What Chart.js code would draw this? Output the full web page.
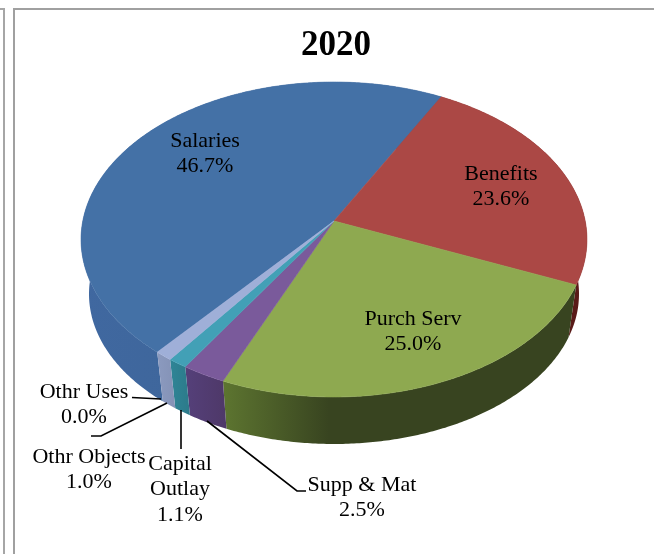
<!DOCTYPE html>
<html lang="en">
<head>
<meta charset="utf-8">
<title>2020</title>
<script src="https://cdnjs.cloudflare.com/ajax/libs/Chart.js/4.4.1/chart.umd.min.js"></script>
<style>
    html, body { margin: 0; background: #fff; }
    body { width: 654px; height: 554px; position: relative; overflow: hidden; }
    #outerFrame { position: absolute; left: 0; top: 8px; width: 3px; height: 546px; border-top: 2px solid #a6a6a6; border-right: 2px solid #a6a6a6; box-sizing: content-box; }
    #frame { position: absolute; left: 13px; top: 8px; right: 0; bottom: 0; border-top: 2px solid #a0a0a0; border-left: 2px solid #a0a0a0; }
    canvas { position: absolute; left: 0; top: 0; }
</style>
</head>
<body>
<div id="outerFrame"></div>
<div id="frame"></div>
<canvas id="budget" width="654" height="554"></canvas>

<script type="text/javascript">

    const title = "2020";
    const categories = ["Salaries", "Benefits", "Purch Serv", "Supp & Mat", "Capital Outlay", "Othr Objects", "Othr Uses"];
    const shares = [46.7, 23.6, 25.0, 2.5, 1.1, 1.0, 0.0];

    const topColors = ["#4471a6", "#ab4845", "#8ea950", "#7a5a9b", "#42a0b6", "#9fafd8", "#e8964a"];
    const wallColorsLeft = ["#4068a0", "#6a2220", "#5d7530", "#55407a", "#2f8596", "#8b9abf", "#b87030"];
    const wallColorsRight = ["#3a6290", "#581a18", "#384420", "#4e3868", "#2c7a8a", "#8492b6", "#b87030"];

    // perspective of the disc: top face and bottom rim
    const tilt = -0.1175;
    const topFace = {x: 334, y: 221, rx: 251.2, ry: 155.3};
    const bottomFace = {x: 334, y: 276.4, rx: 243.3, ry: 147.9};

    function project(face, angle) {
        const u = Math.cos(angle), v = Math.sin(angle);
        const w = 1 + tilt * v;
        return {x: face.x + face.rx * u / w, y: face.y + face.ry * v / w};
    }

    function arcPoints(face, start, end) {
        const pts = [];
        const steps = Math.max(2, Math.ceil((end - start) / 0.01));
        for (let i = 0; i <= steps; i++) {
            pts.push(project(face, start + (end - start) * i / steps));
        }
        return pts;
    }

    function tracePolygon(ctx, pts) {
        ctx.beginPath();
        pts.forEach((p, i) => i ? ctx.lineTo(p.x, p.y) : ctx.moveTo(p.x, p.y));
        ctx.closePath();
    }

    // slices are taken from the arc elements, then drawn on the tilted disc
    const tiltedPie = {
        id: "tiltedPie",
        beforeDatasetDraw(chart) {
            const ctx = chart.ctx;
            const arcs = chart.getDatasetMeta(0).data;
            ctx.save();

            arcs.forEach((arc, i) => {
                if (arc.endAngle - arc.startAngle <= 0) return;
                const upper = arcPoints(topFace, arc.startAngle, arc.endAngle);
                const lower = arcPoints(bottomFace, arc.startAngle, arc.endAngle).reverse();
                const xs = upper.concat(lower).map(p => p.x);
                const left = Math.min(...xs), right = Math.max(...xs);
                const shade = ctx.createLinearGradient(left, 0, Math.max(right, left + 1), 0);
                shade.addColorStop(0, wallColorsLeft[i]);
                shade.addColorStop(i === 2 ? 0.3 : 1, wallColorsRight[i]);
                shade.addColorStop(1, wallColorsRight[i]);
                ctx.fillStyle = shade;
                tracePolygon(ctx, upper.concat(lower));
                ctx.fill();
            });

            arcs.forEach((arc, i) => {
                if (arc.endAngle - arc.startAngle <= 0) return;
                const rim = arcPoints(topFace, arc.startAngle, arc.endAngle);
                const apex = {x: topFace.x, y: topFace.y};
                tracePolygon(ctx, [apex].concat(rim));
                ctx.fillStyle = topColors[i];
                ctx.strokeStyle = topColors[i];
                ctx.lineWidth = 0.6;
                ctx.fill();
                ctx.stroke();
            });

            ctx.restore();
            return false;
        },
        afterDatasetsDraw(chart) {
            const ctx = chart.ctx;
            ctx.save();

            ctx.strokeStyle = "#000";
            ctx.lineWidth = 1.6;
            [
                [[132, 397.5], [161, 399]],
                [[91, 436], [101, 436], [167, 403]],
                [[181, 410], [181, 449]],
                [[207, 421], [297, 491], [306, 491]]
            ].forEach(line => {
                ctx.beginPath();
                line.forEach((p, i) => i ? ctx.lineTo(p[0], p[1]) : ctx.moveTo(p[0], p[1]));
                ctx.stroke();
            });

            const spots = [[205, 141], [501, 174], [413, 319], [362, 485], [180, 464], [89, 457], [84, 392]];
            ctx.fillStyle = "#000";
            ctx.font = "22px 'Liberation Serif'";
            ctx.textAlign = "center";
            ctx.textBaseline = "middle";
            categories.forEach((name, i) => {
                const lines = (name === "Capital Outlay" ? ["Capital", "Outlay"] : [name]);
                lines.push(shares[i].toFixed(1) + "%");
                lines.forEach((text, n) => ctx.fillText(text, spots[i][0], spots[i][1] + n * 25.5));
            });
            ctx.restore();
        }
    };

    new Chart("budget", {
        type: "pie",
        data: {
            labels: categories,
            datasets: [{data: shares, backgroundColor: topColors}]
        },
        options: {
            responsive: false,
            animation: false,
            rotation: 219.8,
            layout: {padding: {left: 18}},
            plugins: {
                legend: {display: false},
                tooltip: {enabled: false},
                title: {
                    display: true,
                    text: title,
                    color: "#000",
                    font: {family: "'Liberation Serif'", size: 35, weight: "bold"},
                    padding: {top: 25, bottom: 0}
                }
            }
        },
        plugins: [tiltedPie]
    });

</script>
</body>
</html>
